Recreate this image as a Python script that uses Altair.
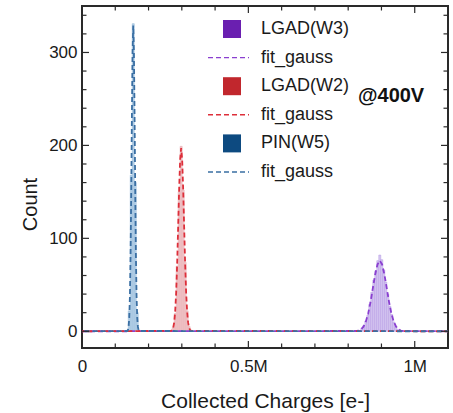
import altair as alt
import pandas as pd

# ---------------- data (x in millions of e-) ----------------
series_names = ["LGAD(W3)", "LGAD(W2)", "PIN(W5)"]

bin_width = 0.006

w3_bin_centers = [0.841, 0.847, 0.853, 0.859, 0.865, 0.871, 0.877, 0.883, 0.889, 0.895,
                  0.901, 0.907, 0.913, 0.919, 0.925, 0.931, 0.937, 0.943, 0.949]
w3_counts = [3, 6, 11, 17, 29, 42, 55, 65, 76, 82, 77, 66, 53, 40, 27, 18, 10, 5, 2]

w2_bin_centers = [0.268, 0.274, 0.280, 0.286, 0.292, 0.298, 0.304, 0.310, 0.316, 0.322, 0.328]
w2_counts = [1, 4, 19, 70, 150, 199, 152, 74, 22, 5, 1]

w5_bin_centers = [0.136, 0.142, 0.148, 0.154, 0.160, 0.166, 0.172]
w5_counts = [1, 22, 168, 331, 160, 20, 1]

w3_fit_x = [0.0, 0.825, 0.832, 0.839, 0.846, 0.853, 0.860, 0.867, 0.874, 0.881, 0.888, 0.895,
            0.902, 0.909, 0.916, 0.923, 0.930, 0.937, 0.944, 0.951, 0.958, 0.965, 1.1]
w3_fit_y = [0.0, 0.3, 0.8, 2.2, 5.0, 10.3, 18.9, 31.2, 46.1, 60.9, 71.9, 76.0,
            71.9, 60.9, 46.1, 31.2, 18.9, 10.3, 5.0, 2.2, 0.8, 0.3, 0.0]

w2_fit_x = [0.0, 0.268, 0.271, 0.274, 0.277, 0.280, 0.283, 0.286, 0.289, 0.292, 0.295, 0.298,
            0.301, 0.304, 0.307, 0.310, 0.313, 0.316, 0.319, 0.322, 0.325, 0.328, 1.1]
w2_fit_y = [0.0, 0.4, 1.3, 3.6, 9.3, 20.9, 41.5, 72.7, 112.4, 153.5, 185.0, 197.0,
            185.0, 153.5, 112.4, 72.7, 41.5, 20.9, 9.3, 3.6, 1.3, 0.4, 0.0]

w5_fit_x = [0.0, 0.136, 0.138, 0.140, 0.142, 0.144, 0.146, 0.148, 0.150, 0.152, 0.154,
            0.156, 0.158, 0.160, 0.162, 0.164, 0.166, 0.168, 0.170, 0.172, 1.1]
w5_fit_y = [0.0, 0.3, 1.3, 4.7, 14.4, 37.6, 82.0, 151.0, 233.0, 301.0, 329.0,
            301.0, 233.0, 151.0, 82.0, 37.6, 14.4, 4.7, 1.3, 0.3, 0.0]

x_major_ticks = [0.0, 0.5, 1.0]
x_minor_ticks = [0.1, 0.2, 0.3, 0.4, 0.6, 0.7, 0.8, 0.9]
y_major_ticks = [0, 100, 200, 300]
y_minor_ticks = [20, 40, 60, 80, 120, 140, 160, 180, 220, 240, 260, 280, 320, 340]

legend_labels = ["LGAD(W3)", "fit_gauss", "LGAD(W2)", "fit_gauss", "PIN(W5)", "fit_gauss"]
annotation = "@400V"

# ---------------- styles ----------------
FONT = "Liberation Sans"
TXT = "#1a1a1a"
hist_fill = ["#d6c7f1", "#f2c9cc", "#b9d3e8"]
hist_edge = ["#b397e2", "#e2a0a6", "#8bb3d5"]
fit_color = ["#8a3fd0", "#dd2f3a", "#3a6fa3"]
square_color = ["#6a1fb0", "#c1272d", "#0d4a80"]

W, H = 366, 342
xs = alt.Scale(domain=[0, 1.1], nice=False, zero=False)
ys = alt.Scale(domain=[-18, 350], nice=False, zero=False)

# ---------------- tables ----------------
rows = []
for name, centers, counts in [(series_names[0], w3_bin_centers, w3_counts),
                              (series_names[1], w2_bin_centers, w2_counts),
                              (series_names[2], w5_bin_centers, w5_counts)]:
    for c, n in zip(centers, counts):
        rows.append({"series": name, "x0": c - bin_width / 2, "x1": c + bin_width / 2,
                     "count": n, "zero": 0})
hist_df = pd.DataFrame(rows)

xaxis = alt.Axis(values=x_major_ticks, labelExpr="datum.value == 0 ? '0' : datum.value + 'M'",
                 ticks=False, tickSize=0, domain=False, grid=False, labelFont=FONT,
                 labelFontSize=17, labelColor=TXT, labelBaseline="alphabetic", labelPadding=23,
                 title="Collected Charges [e-]", titleFont=FONT, titleFontSize=21,
                 titleFontWeight="normal", titleColor=TXT, titleBaseline="alphabetic",
                 titleY=59, labelFlush=False)
yaxis = alt.Axis(values=y_major_ticks, ticks=False, tickSize=0, domain=False, grid=False,
                 labelFont=FONT, labelFontSize=17, labelColor=TXT, labelPadding=5,
                 title="Count", titleFont=FONT, titleFontSize=20, titleFontWeight="normal",
                 titleColor=TXT, titleX=-42, titleY=198, labelFlush=False)

hist = alt.Chart(hist_df).mark_rect(strokeWidth=0.5).encode(
    x=alt.X("x0:Q", scale=xs, axis=xaxis),
    x2="x1:Q",
    y=alt.Y("count:Q", scale=ys, axis=yaxis),
    y2="zero:Q",
    fill=alt.Fill("series:N", scale=alt.Scale(domain=series_names, range=hist_fill), legend=None),
    stroke=alt.Stroke("series:N", scale=alt.Scale(domain=series_names, range=hist_edge), legend=None),
)

layers = [hist]

for i, (fx, fy) in enumerate([(w3_fit_x, w3_fit_y), (w2_fit_x, w2_fit_y), (w5_fit_x, w5_fit_y)]):
    df = pd.DataFrame({"x0": fx, "count": fy})
    layers.append(
        alt.Chart(df).mark_line(color=fit_color[i], strokeWidth=1.8, strokeDash=[5, 3],
                                strokeDashOffset=i * 2.7, clip=True).encode(
            x=alt.X("x0:Q", scale=xs, axis=xaxis),
            y=alt.Y("count:Q", scale=ys, axis=yaxis),
        )
    )

TICK = "#2a2a2a"


def yticks(vals, length, right=False):
    df = pd.DataFrame({"count": vals})
    x0 = W if right else 0
    x1 = W - length if right else length
    return alt.Chart(df).mark_rule(color=TICK, strokeWidth=1.2).encode(
        y=alt.Y("count:Q", scale=ys, axis=yaxis), x=alt.value(x0), x2=alt.value(x1))


def xticks(vals, length, top=False):
    df = pd.DataFrame({"x0": vals})
    y0 = 0 if top else H
    y1 = length if top else H - length
    return alt.Chart(df).mark_rule(color=TICK, strokeWidth=1.2).encode(
        x=alt.X("x0:Q", scale=xs, axis=xaxis), y=alt.value(y0), y2=alt.value(y1))


layers += [yticks(y_major_ticks, 7), yticks(y_minor_ticks, 4.5),
           yticks(y_major_ticks, 7, True), yticks(y_minor_ticks, 4.5, True),
           xticks(x_major_ticks, 7), xticks(x_minor_ticks, 4.5),
           xticks(x_major_ticks, 7, True), xticks(x_minor_ticks, 4.5, True)]

# ---------------- legend (manual, top-right inside plot) ----------------
one = pd.DataFrame({"a": [0]})
leg_y0, leg_dy = 23, 28.6
sq_x, line_x0, line_x1, txt_x = 150, 126, 167, 179
for k, lab in enumerate(legend_labels):
    yy = leg_y0 + k * leg_dy
    s = k // 2
    if k % 2 == 0:
        layers.append(alt.Chart(one).mark_square(size=324, filled=True, opacity=1,
                                                 color=square_color[s]).encode(
            x=alt.value(sq_x), y=alt.value(yy)))
    else:
        layers.append(alt.Chart(one).mark_rule(color=fit_color[s], strokeWidth=1.4,
                                               strokeDash=[5, 3]).encode(
            x=alt.value(line_x0), x2=alt.value(line_x1), y=alt.value(yy)))
    layers.append(alt.Chart(pd.DataFrame({"t": [lab]})).mark_text(
        align="left", baseline="middle", font=FONT, fontSize=18, color=TXT).encode(
        x=alt.value(txt_x), y=alt.value(yy), text="t:N"))

layers.append(alt.Chart(pd.DataFrame({"t": [annotation]})).mark_text(
    align="left", baseline="alphabetic", font=FONT, fontSize=20, fontWeight="bold",
    color="#111111").encode(x=alt.value(276), y=alt.value(96), text="t:N"))

chart = alt.layer(*layers).properties(
    width=W, height=H,
    padding={"left": 82, "top": 6, "right": 5, "bottom": 65},
    autosize=alt.AutoSizeParams(type="none"),
    background="white",
).configure_view(stroke="#2a2a2a", strokeWidth=2)

chart.save("out.html", embed_options={"renderer": "svg", "actions": False})
